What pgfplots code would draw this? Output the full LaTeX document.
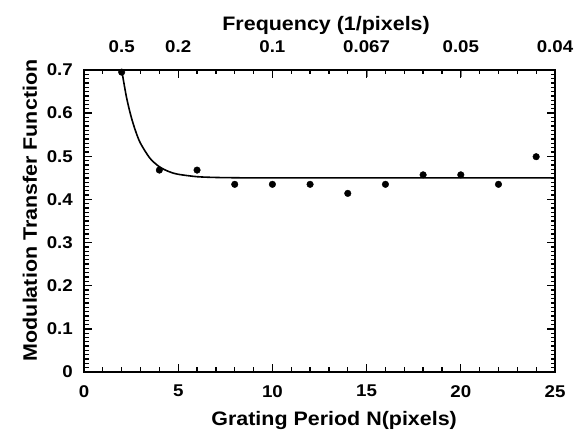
\documentclass[border=0pt]{standalone}
\usepackage{fontspec}
\setmainfont[FakeStretch=1.1]{Liberation Sans}
\usepackage{pgfplots}
\pgfplotsset{compat=1.18}
\begin{document}
\begin{tikzpicture}
\path (-84pt,-57pt) rectangle (491pt,372pt);
\begin{axis}[
  scale only axis, width=471pt, height=302pt,
  xmin=0, xmax=25, ymin=0, ymax=0.7,
  tick align=inside,
  major tick length=7pt,
  axis line style={line width=1.6pt},
  every tick label/.append style={font=\fontsize{17}{19}\selectfont\bfseries},
  every axis label/.append style={font=\fontsize{19.5}{22}\selectfont\bfseries},
  axis x line*=top, hide y axis,
  xtick={2,5,10,15,20,25},
  xticklabels={0.5,0.2,0.1,0.067,0.05,0.04},
  xticklabel style={anchor=south, inner sep=0pt, yshift=17pt},
  xlabel={Frequency (1/pixels)},
  xlabel style={at={(axis description cs:0.514,1.132)}, anchor=base, inner sep=0pt},
]
\end{axis}
\begin{axis}[name=ax,
  scale only axis, width=471pt, height=302pt,
  xmin=0, xmax=25, ymin=0, ymax=0.7,
  tick align=inside,
  major tick length=8pt, minor tick length=4.5pt,
  tick style={draw=black, line width=1.3pt},
  axis line style={line width=1.6pt},
  every tick label/.append style={font=\fontsize{17}{19}\selectfont\bfseries},
  every axis label/.append style={font=\fontsize{19.5}{22}\selectfont\bfseries},
  xtick={0,5,10,15,20,25}, minor x tick num=4,
  xticklabels={0,5,10,15,20,25},
  ytick={0,0.1,0.2,0.3,0.4,0.5,0.6,0.7}, minor y tick num=9,
  yticklabels={0,0.1,0.2,0.3,0.4,0.5,0.6,0.7},
  yticklabel style={anchor=east, inner sep=0pt, xshift=-11pt},
  xticklabel style={anchor=north, inner sep=0pt, yshift=-13pt},
  xlabel={Grating Period N(pixels)},
  xlabel style={at={(axis description cs:0.531,-0.1755)}, anchor=base, inner sep=0pt},
  ylabel={Modulation Transfer Function},
  ylabel style={at={(axis description cs:-0.1,0.535)}, anchor=base, inner sep=0pt},
]
\addplot[black, line width=1.6pt, smooth] coordinates {
(2,0.700) (2.25,0.638) (2.5,0.592) (2.75,0.557) (3,0.530) (3.5,0.4955)
(4,0.4758) (4.5,0.4646) (5,0.4583) (6,0.4527) (7,0.4509) (8,0.4503)
(10,0.450) (25,0.450)};
\addplot[only marks, mark=*, mark size=3.3pt, black] coordinates {
(2,0.695) (4,0.468) (6,0.468) (8,0.435) (10,0.435) (12,0.435)
(14,0.414) (16,0.435) (18,0.457) (20,0.457) (22,0.435) (24,0.499)};
\end{axis}
\end{tikzpicture}
\end{document}
